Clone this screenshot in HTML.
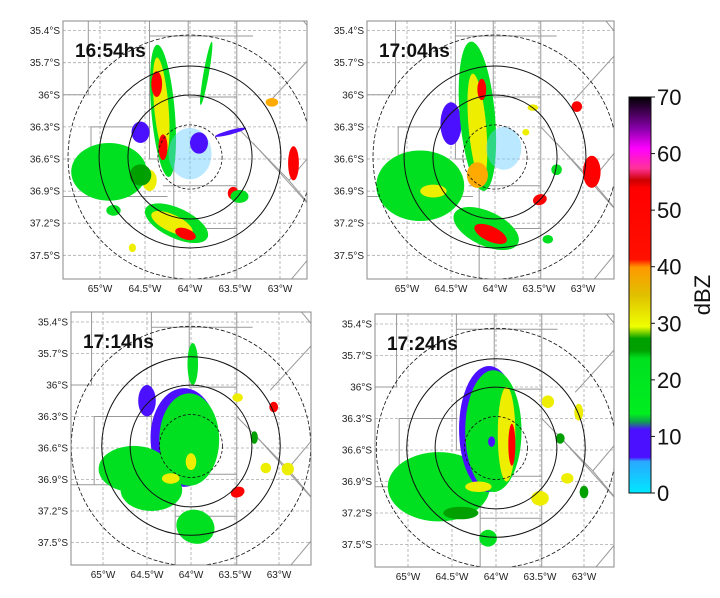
<!DOCTYPE html>
<html><head><meta charset="utf-8"><style>
html,body{margin:0;padding:0;background:#fff;}
svg{display:block;font-family:"Liberation Sans",sans-serif;}
</style></head><body>
<svg id="fig" width="720" height="598" viewBox="0 0 720 598" xmlns="http://www.w3.org/2000/svg">
<defs>
<linearGradient id="cmap" x1="0" y1="1" x2="0" y2="0">
<stop offset="0" stop-color="#00e8ff"/><stop offset="0.08" stop-color="#2aa8ff"/>
<stop offset="0.09" stop-color="#4a10ff"/><stop offset="0.16" stop-color="#4a10ff"/>
<stop offset="0.18" stop-color="#10a050"/><stop offset="0.2" stop-color="#00ee20"/>
<stop offset="0.34" stop-color="#00e020"/><stop offset="0.36" stop-color="#00a000"/>
<stop offset="0.39" stop-color="#00a000"/><stop offset="0.42" stop-color="#eeff00"/>
<stop offset="0.5" stop-color="#e0c000"/><stop offset="0.57" stop-color="#ff9900"/>
<stop offset="0.59" stop-color="#ff1000"/><stop offset="0.77" stop-color="#ff0000"/>
<stop offset="0.79" stop-color="#cc0000"/><stop offset="0.82" stop-color="#ff3399"/>
<stop offset="0.87" stop-color="#ff00ff"/><stop offset="0.92" stop-color="#8800aa"/>
<stop offset="1" stop-color="#000000"/>
</linearGradient>
</defs>
</svg>
<script>
// ---- data ----
const latTicks = [35.4, 35.7, 36.0, 36.3, 36.6, 36.9, 37.2, 37.5];
const latLabels = ["35.4°S","35.7°S","36°S","36.3°S","36.6°S","36.9°S","37.2°S","37.5°S"];
const lonTicks = [-65, -64.5, -64, -63.5, -63];
const lonLabels = ["65°W","64.5°W","64°W","63.5°W","63°W"];
const cbarTicks = [0,10,20,30,40,50,60,70];
const panelTitles = ["16:54hs","17:04hs","17:14hs","17:24hs"];
// echoes: [lon, lat, rx(deg), ry(deg), dBZ, rotation]
const echoes1654 = [
 [-64.9,36.72,0.42,0.27,20,0],[-64.55,36.35,0.1,0.1,10,0],[-64.3,36.15,0.13,0.62,22,-5],
 [-64.32,36.1,0.08,0.45,32,-5],[-64.37,35.9,0.06,0.12,45,0],[-64.3,36.49,0.05,0.12,45,0],
 [-64.45,36.8,0.08,0.1,33,0],[-64.15,37.2,0.38,0.14,22,25],[-64.2,37.2,0.25,0.08,33,25],
 [-64.05,37.3,0.12,0.05,45,20],[-64.0,36.55,0.24,0.24,3,0],[-63.9,36.45,0.1,0.1,8,0],
 [-63.52,36.92,0.06,0.06,45,0],[-63.45,36.95,0.1,0.06,22,0],[-62.85,36.64,0.06,0.16,40,0],
 [-63.09,36.07,0.07,0.04,35,0],[-64.64,37.43,0.04,0.04,30,0],[-64.85,37.08,0.08,0.05,20,0],
 [-63.82,35.8,0.03,0.3,18,10],[-63.55,36.35,0.18,0.02,10,-15],[-64.55,36.75,0.12,0.1,26,0]
];
const echoes1704 = [
 [-64.85,36.85,0.5,0.33,20,0],[-64.5,36.27,0.12,0.2,9,0],[-64.2,36.2,0.2,0.7,22,-5],
 [-64.2,36.3,0.1,0.5,32,-5],[-64.15,35.95,0.05,0.1,40,0],[-64.2,36.75,0.12,0.12,38,0],
 [-63.9,36.5,0.2,0.2,3,0],[-64.1,37.25,0.4,0.16,22,25],[-64.05,37.3,0.2,0.07,40,25],
 [-62.9,36.72,0.1,0.15,40,0],[-63.07,36.11,0.06,0.05,45,0],[-63.49,36.98,0.08,0.05,45,-20],
 [-63.3,36.7,0.06,0.05,22,0],[-63.57,36.12,0.06,0.03,30,0],[-64.7,36.9,0.15,0.06,30,0],
 [-63.65,36.35,0.04,0.03,30,0],[-63.4,37.35,0.06,0.04,20,0]
];
const echoes1714 = [
 [-64.08,36.5,0.38,0.47,9,0],[-64.02,36.52,0.34,0.44,22,0],[-64.65,36.8,0.4,0.22,20,0],
 [-64.45,37.0,0.35,0.2,20,0],[-63.98,35.8,0.06,0.2,20,0],[-63.95,37.35,0.22,0.16,20,20],
 [-64.23,36.89,0.1,0.05,32,0],[-64.0,36.73,0.06,0.08,32,0],[-63.47,37.02,0.08,0.05,42,-20],
 [-63.06,36.21,0.05,0.05,45,0],[-62.9,36.8,0.07,0.06,30,0],[-63.15,36.79,0.06,0.05,30,0],
 [-63.47,36.12,0.06,0.04,28,0],[-63.28,36.5,0.04,0.06,25,0],[-64.5,36.15,0.1,0.15,10,0]
];
const echoes1724 = [
 [-64.65,36.95,0.58,0.33,20,0],[-64.08,36.4,0.34,0.6,9,0],[-64.03,36.42,0.32,0.58,22,0],
 [-63.88,36.45,0.1,0.45,32,0],[-63.82,36.55,0.04,0.2,40,0],[-64.05,36.52,0.04,0.05,9,0],
 [-64.2,36.95,0.15,0.05,33,0],[-63.5,37.06,0.1,0.07,30,0],[-63.41,36.14,0.07,0.06,30,0],
 [-63.06,36.24,0.05,0.08,30,0],[-63.19,36.87,0.07,0.05,30,0],[-63.0,37.0,0.05,0.06,25,0],
 [-63.27,36.49,0.05,0.05,25,0],[-64.09,37.44,0.1,0.08,20,0],[-64.4,37.2,0.2,0.06,25,0]
];
const borders = [
 [[-65.13,35.25],[-65.13,36.0],[-65.5,36.0]],[[-64.45,35.25],[-64.45,35.45],[-63.3,35.45]],
 [[-64.02,35.25],[-64.02,36.02]],[[-63.48,35.25],[-63.48,37.9]],[[-64.45,35.45],[-64.45,36.6],[-64.18,36.6],[-64.18,37.9]],
 [[-65.5,36.95],[-64.25,36.95]],[[-64.45,36.3],[-65.1,36.3],[-65.1,36.95]],[[-64.3,36.85],[-63.48,36.85]],
 [[-64.02,36.02],[-63.48,36.02]],[[-63.48,37.25],[-64.18,37.25]],
 [[-63.1,36.05],[-62.55,35.55]],[[-62.95,35.3],[-62.75,35.3],[-62.55,35.5]],[[-63.48,36.3],[-62.9,36.8],[-62.55,36.45]],
 [[-63.3,36.45],[-62.55,37.15]],[[-63.05,37.9],[-62.55,37.4]],[[-62.9,36.8],[-62.55,37.15]]
];
const panels = [
 {L:63,T:21,R:307,B:279,x0:190,y0:159,sx:90,sy:107,cx:190,cy:157,title:panelTitles[0],data:echoes1654},
 {L:367,T:21,R:614,B:279,x0:495,y0:159,sx:88,sy:107,cx:495,cy:157,title:panelTitles[1],data:echoes1704},
 {L:71,T:312,R:311,B:565,x0:191,y0:448,sx:88,sy:105,cx:191,cy:446,title:panelTitles[2],data:echoes1714},
 {L:375,T:314,R:614,B:567,x0:496,y0:450,sx:88,sy:105,cx:496,cy:448,title:panelTitles[3],data:echoes1724}
];
function dbzColor(v){
 if(v<5) return "#66ccff"; if(v<12) return "#4a10ff"; if(v<25) return "#00e020";
 if(v<28) return "#00a000"; if(v<34) return "#eeee00"; if(v<40) return "#ffaa00";
 if(v<55) return "#ff0000"; if(v<60) return "#ff3399"; return "#ff00ff";
}
const NS="http://www.w3.org/2000/svg";
const svg=document.getElementById('fig');
function mk(tag,attrs,parent){const e=document.createElementNS(NS,tag);for(const k in attrs)e.setAttribute(k,attrs[k]);(parent||svg).appendChild(e);return e;}
panels.forEach((p,i)=>{
 const X=lon=>p.x0+(lon+64)*p.sx, Y=lat=>p.y0+(lat-36.6)*p.sy;
 const g=mk('g',{});
 
 
 const cp=mk('clipPath',{id:'cp'+i},g); mk('rect',{x:p.L,y:p.T,width:p.R-p.L,height:p.B-p.T},cp);
 const inner=mk('g',{'clip-path':'url(#cp'+i+')'},g);
 latTicks.forEach((t,j)=>{
  const y=Y(t);
  const ln=mk('line',{x1:p.L,x2:p.R,y1:y,y2:y,stroke:'#aaa','stroke-width':0.8,'stroke-dasharray':'3,2'},inner);
   
  const tx=mk('text',{x:p.L-3,y:y+3.5,'text-anchor':'end','font-size':10,fill:'#222'},g); tx.textContent=latLabels[j];
   
 });
 lonTicks.forEach((t,j)=>{
  const x=X(t);
  const ln=mk('line',{x1:x,x2:x,y1:p.T,y2:p.B,stroke:'#aaa','stroke-width':0.8,'stroke-dasharray':'3,2'},inner);
   
  const tx=mk('text',{x:x,y:p.B+13,'text-anchor':'middle','font-size':10,fill:'#222'},g); tx.textContent=lonLabels[j];
   
 });
 borders.forEach(b=>{
  const pl=mk('polyline',{points:b.map(q=>X(q[0])+','+Y(q[1])).join(' '),fill:'none',stroke:'#999','stroke-width':1},inner);
   
 });
 p.data.forEach(e=>{
  const el=mk('ellipse',{cx:X(e[0]),cy:Y(e[1]),rx:e[2]*p.sx,ry:e[3]*p.sy,fill:dbzColor(e[4]),transform:'rotate('+e[5]+' '+X(e[0])+' '+Y(e[1])+')',opacity:e[4]<5?0.45:1},inner);
   
 });
 [[1.14,'4,2'],[0.85,''],[0.58,''],[0.3,'3,2']].forEach(c=>{
  const ci=mk('circle',{cx:p.cx,cy:p.cy,r:c[0]*p.sy,fill:'none',stroke:'#111','stroke-width':c[1]?0.8:1,'stroke-dasharray':c[1]},inner);
   
 });
 const fr=mk('rect',{x:p.L,y:p.T,width:p.R-p.L,height:p.B-p.T,fill:'none',stroke:'#888','stroke-width':1},g);
  
 const tt=mk('text',{x:p.L+12,y:p.T+36,'font-size':19,'font-weight':'bold',fill:'#111'},g); tt.textContent=p.title;
  
});
// colorbar
const cbT=97,cbB=493,cbL=629,cbW=22;
const cb=mk('rect',{x:cbL,y:cbT,width:cbW,height:cbB-cbT,fill:'url(#cmap)',stroke:'#111','stroke-width':1});
 
cbarTicks.forEach(v=>{
 const y=cbB-(v/70)*(cbB-cbT);
 mk('line',{x1:cbL+cbW,x2:cbL+cbW+4,y1:y,y2:y,stroke:'#111'});
 const t=mk('text',{x:cbL+cbW+6,y:y+8,'font-size':22,fill:'#111'}); t.textContent=v;
  
});
const lab=mk('text',{x:710,y:295,'font-size':22,fill:'#111','text-anchor':'middle',transform:'rotate(-90 710 295)'}); lab.textContent='dBZ';
 
</script>
</body></html>
